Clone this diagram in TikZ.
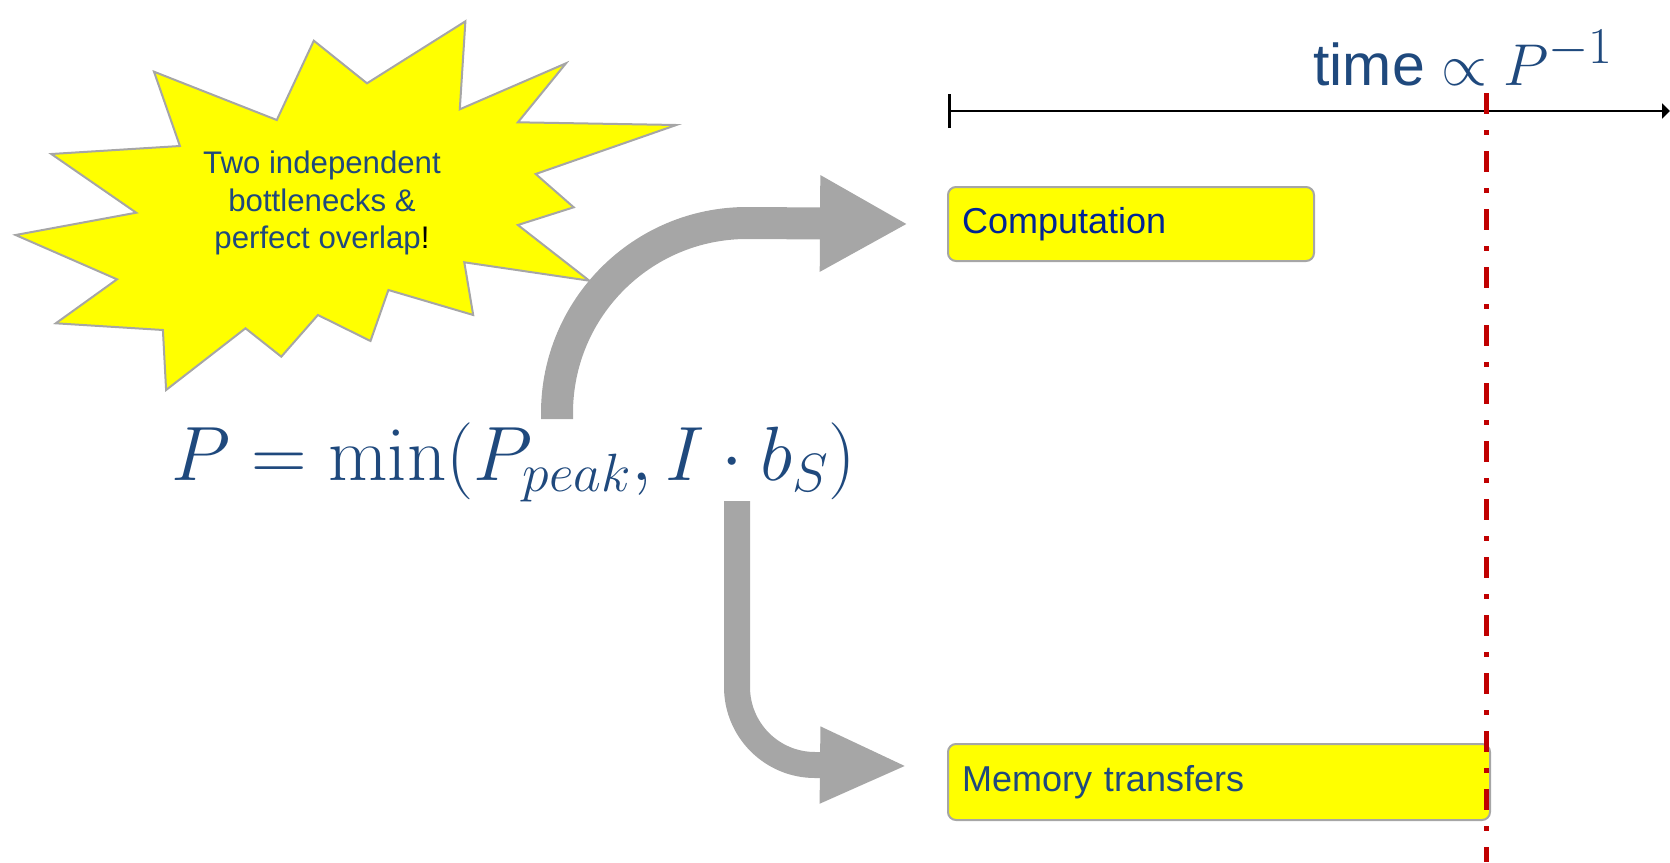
\RequirePackage{fix-cm}
\documentclass[tikz,border=0pt]{standalone}
\usepackage[no-math]{fontspec}
\setmainfont{Liberation Sans}
\usetikzlibrary{arrows.meta,positioning}
\definecolor{textblue}{RGB}{31,73,125}
\definecolor{compblue}{RGB}{0,36,150}
\definecolor{arrowgray}{RGB}{166,166,166}
\definecolor{markred}{RGB}{192,0,0}
\definecolor{boxyellow}{RGB}{255,255,0}
\tikzset{
	taskbox/.style={draw=arrowgray, line width=1pt, fill=boxyellow, rounded corners=4pt,
		anchor=north west, inner xsep=7pt, inner ysep=0pt, align=left,
		font=\fontsize{18}{21.6}\selectfont},
	burst/.style={draw=arrowgray, line width=1pt, fill=boxyellow},
	flowarrow/.style={draw=arrowgray, line width=#1},
}

\begin{document}
\begin{tikzpicture}[x=0.5pt, y=-0.5pt]
		%%%%% START %%%%%
		\useasboundingbox (0,0) rectangle (1670,862);
		
		% starburst
		\draw[burst] (154,71.7) -- (276.8,120) -- (313.8,40.7) -- (367,83.3) -- (465.4,21.3)
			-- (459.8,109.3) -- (566,63.3) -- (517.9,122.3) -- (676.3,125) -- (535.7,174)
			-- (573.7,207.3) -- (517.9,225) -- (589.3,280.7) -- (464.3,262.3) -- (473.2,315)
			-- (388.4,290) -- (370.5,341) -- (317.9,315) -- (281.3,356.7) -- (245.5,328.3)
			-- (166.1,390) -- (162.9,330) -- (55.8,323.3) -- (117,279.3) -- (15.6,235)
			-- (136.2,212.7) -- (51.3,154) -- (179.9,146) -- cycle;
		\node[align=center, text=textblue, font=\fontsize{15.6}{18.75}\selectfont] (bursttext) at (322,203)
			{Two independent\\bottlenecks \&\\perfect overlap{\color{black}!}};
		
		% time axis
		\coordinate (t0) at (948,111);
		\coordinate (t1) at (1670,111);
		\draw[line width=1.3pt, {Bar[width=17pt]}-{Triangle[length=4pt,width=7.5pt]}] (t0) -- (t1);
		\node[anchor=base west, inner sep=0pt, text=textblue, font=\fontsize{29.5}{35}\selectfont] (timelabel)
			at (1313,85) {time $\propto P^{\scalebox{1.25}{$\scriptstyle -1$}}$};
		
		% formula
		\node[anchor=base west, inner sep=0pt, text=textblue, font=\fontsize{38.5}{46}\selectfont] (formula)
			at (171,480) {$P = \min(P_{peak}, I\cdot b_S)$};
		
		% boxes
		\node[taskbox, text width=169pt, minimum height=37pt, text=compblue] (comp) at (947,186) {Computation};
		\node[taskbox, text width=257pt, minimum height=38pt, text=textblue] (mem) at (947,743) {Memory transfers};
		
		% arrows
		\coordinate (upstart) at (557,419);
		\coordinate (lowstart) at (737,501);
		\draw[flowarrow=16pt, -{Triangle[length=44pt,width=45pt]}] (upstart) -- ++(0,-6)
			arc[start angle=180, end angle=270, radius=190] -- ([xshift=-19.5pt]comp.west);
		\draw[flowarrow=13pt, -{Triangle[length=44pt,width=35pt]}] (lowstart) -- (737,687)
			arc[start angle=180, end angle=90, radius=78] -- ([xshift=-19.5pt, yshift=8pt]mem.west);
		
		% red marker
		\draw[markred, line width=2.5pt, dash pattern=on 10.5pt off 8pt on 2.5pt off 8pt] (1486,93) -- (1486,862);
		
		%%%%% END %%%%%
\end{tikzpicture}
\end{document}
